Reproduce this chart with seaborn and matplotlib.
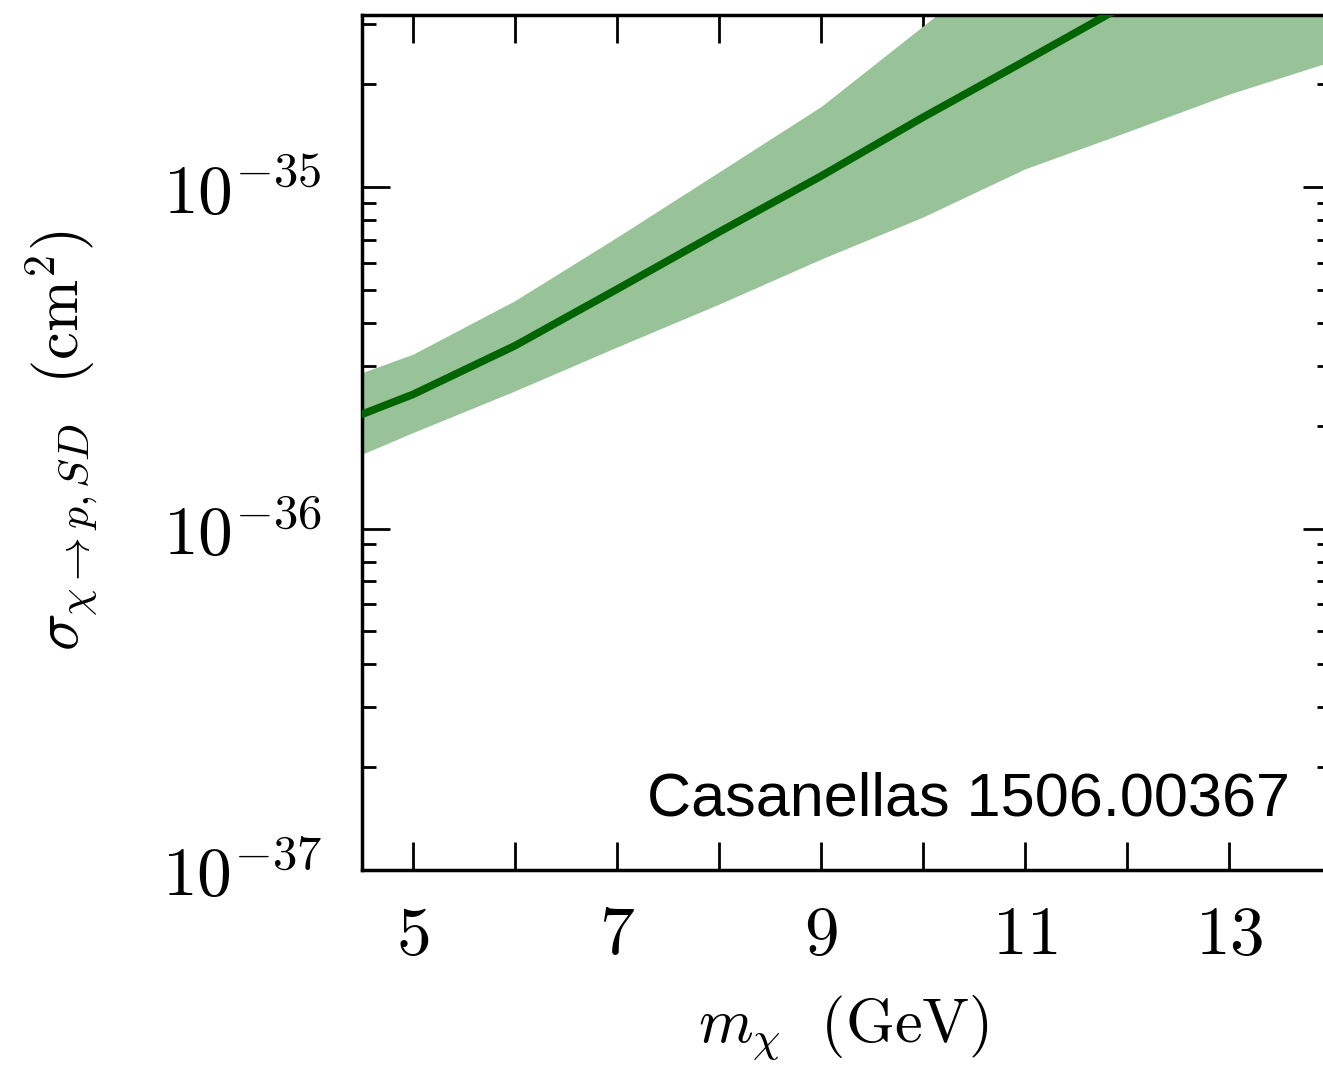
import numpy as np
import pandas as pd
import matplotlib
matplotlib.use("Agg")
import matplotlib.pyplot as plt
import seaborn as sns

# ---- data ----
mass = [4.5, 5, 6, 7, 8, 9, 10, 11, 12]
sigma_central = [2.16e-36, 2.47e-36, 3.43e-36, 5.02e-36, 7.38e-36, 1.076e-35, 1.60e-35, 2.34e-35, 3.44e-35]

band_mass = [4.5, 5, 6, 7, 8, 9, 10, 11, 12, 13, 14]
sigma_upper = [2.86e-36, 3.24e-36, 4.65e-36, 7.13e-36, 1.107e-35, 1.72e-35, 2.96e-35, 5.1e-35, 8.9e-35, 1.6e-34, 2.8e-34]
sigma_lower = [1.65e-36, 1.91e-36, 2.53e-36, 3.40e-36, 4.54e-36, 6.15e-36, 8.17e-36, 1.13e-35, 1.45e-35, 1.87e-35, 2.33e-35]

x_ticks = [5, 6, 7, 8, 9, 10, 11, 12, 13]
x_ticklabels = ["$5$", "", "$7$", "", "$9$", "", "$11$", "", "$13$"]
y_ticks = [1e-37, 1e-36, 1e-35]
y_ticklabels = [r"$10^{-37}$", r"$10^{-36}$", r"$10^{-35}$"]
annotation = "Casanellas 1506.00367"

# ---- style ----
sns.set_theme(style="ticks")
plt.rcParams["mathtext.fontset"] = "cm"
plt.rcParams["font.family"] = ["DejaVu Serif"]

W, H = 1323, 1066
fig = plt.figure(figsize=(W / 100, H / 100), dpi=100)
# axes box in pixels: left 362, right 1331 (beyond crop), bottom 870, top 14.5
ax = fig.add_axes([362 / W, (H - 870) / H, (1331 - 362) / W, (870 - 14.5) / H])

band_color = "#98c298"
line_color = "#006400"

ax.fill_between(band_mass, sigma_lower, sigma_upper, color=band_color, lw=0, zorder=1)
df = pd.DataFrame({"m": mass, "s": sigma_central})
sns.lineplot(data=df, x="m", y="s", ax=ax, color=line_color, lw=5.5, zorder=3)

ax.set_yscale("log")
ax.set_xlim(4.5, 14)
ax.set_ylim(1e-37, 3.2e-35)

ax.set_xticks(x_ticks)
ax.set_xticklabels(x_ticklabels)
ax.set_yticks(y_ticks)
ax.set_yticklabels(y_ticklabels)
ax.yaxis.set_minor_locator(matplotlib.ticker.LogLocator(base=10, subs=np.arange(2, 10)))
ax.yaxis.set_minor_formatter(matplotlib.ticker.NullFormatter())
ax.xaxis.set_minor_locator(matplotlib.ticker.NullLocator())

ax.tick_params(axis="both", which="major", direction="in", length=20, width=2,
               top=True, right=True, labelsize=50, colors="black")
ax.tick_params(axis="x", which="major", pad=23)
ax.tick_params(axis="y", which="major", pad=29)
ax.tick_params(axis="y", which="minor", direction="in", length=10, width=2,
               left=True, right=True, colors="black")
for sp in ax.spines.values():
    sp.set_linewidth(2.5)
    sp.set_color("black")

ax.set_xlabel(r"$m_{\chi}\ \ (\mathrm{GeV})$", fontsize=45, color="black")
ax.set_ylabel(r"$\sigma_{\chi\to p,SD}\ \ (\mathrm{cm}^2)$", fontsize=45, color="black")
ax.xaxis.set_label_coords((843 - 362) / (1331 - 362), (870 - 1028) / 855.5)
ax.xaxis.label.set_va("center")
ax.yaxis.set_label_coords((62 - 362) / (1331 - 362), (870 - 441) / 855.5)
ax.yaxis.label.set_va("center")

fig.text(1290 / W, (H - 816) / H, annotation, ha="right", va="baseline",
         fontsize=44, family=["Liberation Sans", "DejaVu Sans"], color="black")

fig.savefig("out.png", dpi=100)
